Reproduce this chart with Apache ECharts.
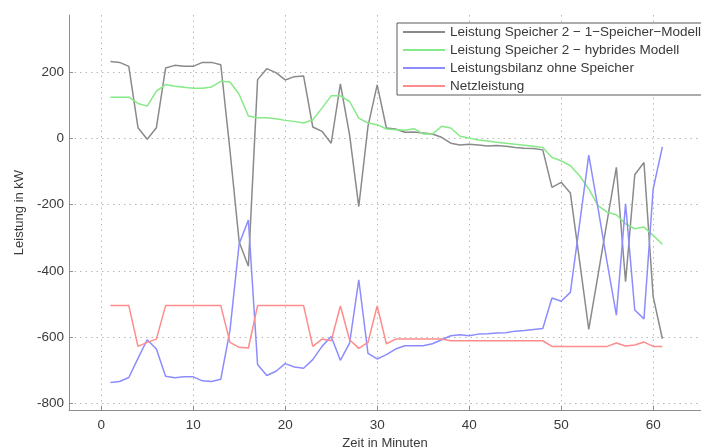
<!DOCTYPE html>
<html>
<head>
<meta charset="utf-8">
<script src="https://cdn.jsdelivr.net/npm/echarts@6/dist/echarts.min.js"></script>
<style>
  html, body { margin: 0; padding: 0; background: #fff; }
  #chart { width: 701px; height: 448px; }
</style>
</head>
<body>
<div id="chart"></div>
<script>
// Zeitachse in Minuten
const minutes = [1, 2, 3, 4, 5, 6, 7, 8, 9, 10, 11, 12, 13, 14, 15, 16, 17, 18, 19, 20,
  21, 22, 23, 24, 25, 26, 27, 28, 29, 30, 31, 32, 33, 34, 35, 36, 37, 38, 39, 40,
  41, 42, 43, 44, 45, 46, 47, 48, 49, 50, 51, 52, 53, 54, 55, 56, 57, 58, 59, 60, 61];

// Leistung Speicher 2 – 1-Speicher-Modell (kW)
const speicherEinModell = [232, 229, 217, 32, -3, 32, 212, 220, 217, 217, 229, 229, 222, -37, -313, -386,
  177, 210, 198, 176, 186, 188, 34, 21, -15, 164, 10, -206, 36, 161, 31, 28, 18, 19, 16, 13, 3, -15, -20,
  -18, -20, -23, -22, -24, -28, -30, -31, -35, -148, -133, -165, -370, -577, -414, -249, -88, -433, -110,
  -73, -478, -605];

// Leistung Speicher 2 – hybrides Modell (kW)
const speicherHybrid = [124, 124, 124, 105, 97, 142, 162, 157, 154, 151, 151, 155, 172, 170, 132, 67,
  62, 62, 59, 54, 51, 46, 56, 91, 128, 128, 111, 61, 46, 41, 28, 26, 24, 29, 13, 13, 36, 31, 6, 1,
  -5, -8, -12, -15, -18, -21, -24, -28, -58, -68, -83, -113, -153, -203, -223, -231, -258, -273, -268,
  -293, -320];

// Leistungsbilanz ohne Speicher (kW)
const bilanz = [-737, -734, -722, -664, -608, -636, -718, -723, -720, -720, -732, -734, -727, -579, -318,
  -247, -683, -716, -703, -680, -690, -694, -668, -628, -598, -670, -618, -427, -649, -666, -653, -636,
  -626, -626, -626, -620, -608, -596, -593, -596, -591, -590, -588, -587, -582, -580, -577, -574, -482,
  -492, -465, -259, -51, -210, -375, -534, -198, -518, -545, -153, -26];

// Netzleistung (kW)
const netz = [-505, -505, -505, -628, -616, -606, -505, -505, -505, -505, -505, -505, -505, -616, -631,
  -633, -505, -505, -505, -505, -505, -505, -628, -606, -611, -506, -608, -634, -616, -506, -620, -606,
  -606, -606, -606, -606, -606, -611, -611, -611, -611, -611, -611, -611, -611, -611, -611, -611, -628,
  -628, -628, -628, -628, -628, -628, -618, -627, -624, -615, -628, -628];

const xTicks = [0, 10, 20, 30, 40, 50, 60];
const yTicks = [-800, -600, -400, -200, 0, 200];

const seriesNames = [
  'Leistung Speicher 2 \u2212 1\u2212Speicher\u2212Modell',
  'Leistung Speicher 2 \u2212 hybrides Modell',
  'Leistungsbilanz ohne Speicher',
  'Netzleistung'
];
const seriesColors = ['#8a8a8a', '#86ea86', '#8c8cff', '#ff8c8c'];
const seriesData = [speicherEinModell, speicherHybrid, bilanz, netz];

const font = 'Liberation Sans, Arial, sans-serif';
const textColor = '#3a3a3a';
const gridLine = { show: true, lineStyle: { color: '#b8b8b8', width: 1, type: [1.5, 4] } };

const chart = echarts.init(document.getElementById('chart'), null, { renderer: 'canvas' });

chart.setOption({
  animation: false,
  backgroundColor: '#fff',
  grid: { left: 69, right: 0, top: 15, bottom: 38, containLabel: false, outerBoundsMode: 'none' },
  legend: {
    orient: 'vertical',
    left: 397,
    top: 23,
    padding: [2, 4, 2, 6],
    itemGap: 4,
    itemWidth: 42,
    itemHeight: 2,
    icon: 'rect',
    backgroundColor: '#fff',
    borderColor: '#5a5a5a',
    borderWidth: 1,
    borderRadius: 0,
    textStyle: { fontFamily: font, fontSize: 13.5, color: textColor, lineHeight: 14, padding: [0, 0, 0, 0] },
    data: seriesNames
  },
  xAxis: {
    type: 'value',
    min: -3.5,
    max: 65.2,
    name: 'Zeit in Minuten',
    nameLocation: 'middle',
    nameGap: 24,
    nameTextStyle: { fontFamily: font, fontSize: 13, color: textColor },
    axisLine: { show: true, onZero: false, lineStyle: { color: '#8e8e8e', width: 1 } },
    axisTick: { show: true, inside: true, length: 4, customValues: xTicks, lineStyle: { color: '#8e8e8e' } },
    axisLabel: { customValues: xTicks, fontFamily: font, fontSize: 13.5, color: textColor, margin: 8 },
    splitLine: gridLine
  },
  yAxis: {
    type: 'value',
    min: -820,
    max: 372,
    name: 'Leistung in kW',
    nameLocation: 'middle',
    nameGap: 41,
    nameTextStyle: { fontFamily: font, fontSize: 13, color: textColor },
    axisLine: { show: true, onZero: false, lineStyle: { color: '#8e8e8e', width: 1 } },
    axisTick: { show: true, inside: true, length: 4, customValues: yTicks, lineStyle: { color: '#8e8e8e' } },
    axisLabel: { customValues: yTicks, fontFamily: font, fontSize: 13.5, color: textColor, margin: 5 },
    splitLine: gridLine
  },
  series: seriesNames.map((name, i) => ({
    name: name,
    type: 'line',
    showSymbol: false,
    symbol: 'none',
    color: seriesColors[i],
    lineStyle: { width: 1.5, color: seriesColors[i] },
    data: minutes.map((m, k) => [m, seriesData[i][k]]),
    z: 2 + i
  }))
});
</script>
</body>
</html>
